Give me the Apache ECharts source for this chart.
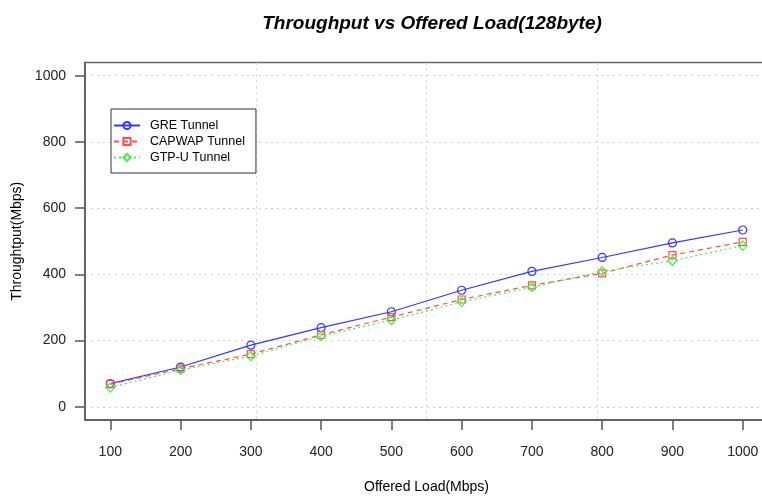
<!DOCTYPE html>
<html>
<head>
<meta charset="utf-8">
<script src="https://cdn.jsdelivr.net/npm/echarts@6/dist/echarts.min.js"></script>
<style>
html,body{margin:0;padding:0;background:#fff;}
#c{width:762px;height:497px;}
</style>
</head>
<body>
<div id="c"></div>
<script>
const loads = [100, 200, 300, 400, 500, 600, 700, 800, 900, 1000];
const greTunnel = [70, 120, 186, 239, 287, 352, 409, 451, 495, 534];
const capwapTunnel = [68, 115, 159, 217, 271, 324, 367, 403, 458, 498];
const gtpuTunnel = [58, 111, 153, 213, 262, 317, 361, 409, 441, 487];
const xTicks = [100, 200, 300, 400, 500, 600, 700, 800, 900, 1000];
const yTicks = [0, 200, 400, 600, 800, 1000];
const seriesNames = ['GRE Tunnel', 'CAPWAP Tunnel', 'GTP-U Tunnel'];

const FONT = '"Liberation Sans", Arial, sans-serif';
const chart = echarts.init(document.getElementById('c'), null, {renderer: 'canvas'});

function pairs(vals) { return loads.map((x, i) => [x, vals[i]]); }

function mkSeries(name, vals, color, type, symbol) {
  return {
    name: name,
    type: 'line',
    xAxisIndex: 0,
    yAxisIndex: 0,
    data: pairs(vals),
    symbol: symbol,
    symbolSize: symbol === 'rect' ? 7 : (symbol === 'diamond' ? 9 : 8),
    color: color,
    lineStyle: {color: color, width: 1.2, type: type},
    itemStyle: {color: 'rgba(255,255,255,0)', borderColor: color, borderWidth: 1.2},
    emphasis: {disabled: true},
    animation: false
  };
}

const plain = v => String(v);

const option = {
  animation: false,
  backgroundColor: '#fff',
  title: {
    text: 'Throughput vs Offered Load(128byte)',
    left: 427,
    textAlign: 'center',
    top: 9,
    textStyle: {fontFamily: FONT, fontSize: 19, fontWeight: 'bold', fontStyle: 'italic', color: '#000'}
  },
  legend: {
    data: seriesNames,
    orient: 'vertical',
    left: 111,
    top: 109,
    padding: [10, 11, 9, 2],
    itemWidth: 26,
    itemHeight: 9,
    itemGap: 3,
    borderColor: '#333',
    borderWidth: 1,
    backgroundColor: '#fff',
    textStyle: {fontFamily: FONT, fontSize: 12.5, color: '#000', padding: [0, 0, 0, 5]}
  },
  grid: {
    left: 85,
    right: -6,
    top: 62.5,
    bottom: 77,
    containLabel: false,
    outerBoundsMode: 'none',
    show: true,
    borderColor: '#666',
    borderWidth: 1.5,
    backgroundColor: 'transparent'
  },
  xAxis: [
    {
      type: 'value',
      min: 64,
      max: 1036,
      position: 'bottom',
      name: 'Offered Load(Mbps)',
      nameLocation: 'middle',
      nameGap: 60,
      nameTextStyle: {fontFamily: FONT, fontSize: 14, color: '#000'},
      axisLine: {show: true, onZero: false, lineStyle: {color: '#555', width: 1.5}},
      axisTick: {show: true, length: 10, customValues: xTicks, lineStyle: {color: '#555', width: 1.5}},
      axisLabel: {customValues: xTicks, formatter: plain, margin: 25, fontFamily: FONT, fontSize: 14, color: '#222'},
      splitLine: {show: false}
    },
    {
      type: 'value',
      min: 64,
      max: 1036,
      interval: 243,
      position: 'bottom',
      axisLine: {show: false, onZero: false},
      axisTick: {show: false},
      axisLabel: {show: false},
      splitLine: {show: true, lineStyle: {color: '#d0d0d0', type: [2, 4], width: 1}}
    }
  ],
  yAxis: [
    {
      type: 'value',
      min: -40,
      max: 1040,
      splitNumber: 5,
      name: 'Throughtput(Mbps)',
      nameLocation: 'middle',
      nameGap: 60,
      nameRotate: 90,
      nameTextStyle: {fontFamily: FONT, fontSize: 14, color: '#000'},
      axisLine: {show: true, onZero: false, lineStyle: {color: '#555', width: 1.5}},
      axisTick: {show: true, length: 10, customValues: yTicks, lineStyle: {color: '#555', width: 1.5}},
      axisLabel: {customValues: yTicks, formatter: plain, margin: 19, fontFamily: FONT, fontSize: 14, color: '#222'},
      splitLine: {show: true, lineStyle: {color: '#d0d0d0', type: [2, 4], width: 1}}
    }
  ],
  series: [
    mkSeries(seriesNames[0], greTunnel, '#3535ff', 'solid', 'circle'),
    mkSeries(seriesNames[1], capwapTunnel, '#ff4d4d', [5, 4], 'rect'),
    mkSeries(seriesNames[2], gtpuTunnel, '#44ee44', [2, 3], 'diamond')
  ]
};
chart.setOption(option);
</script>
</body>
</html>
